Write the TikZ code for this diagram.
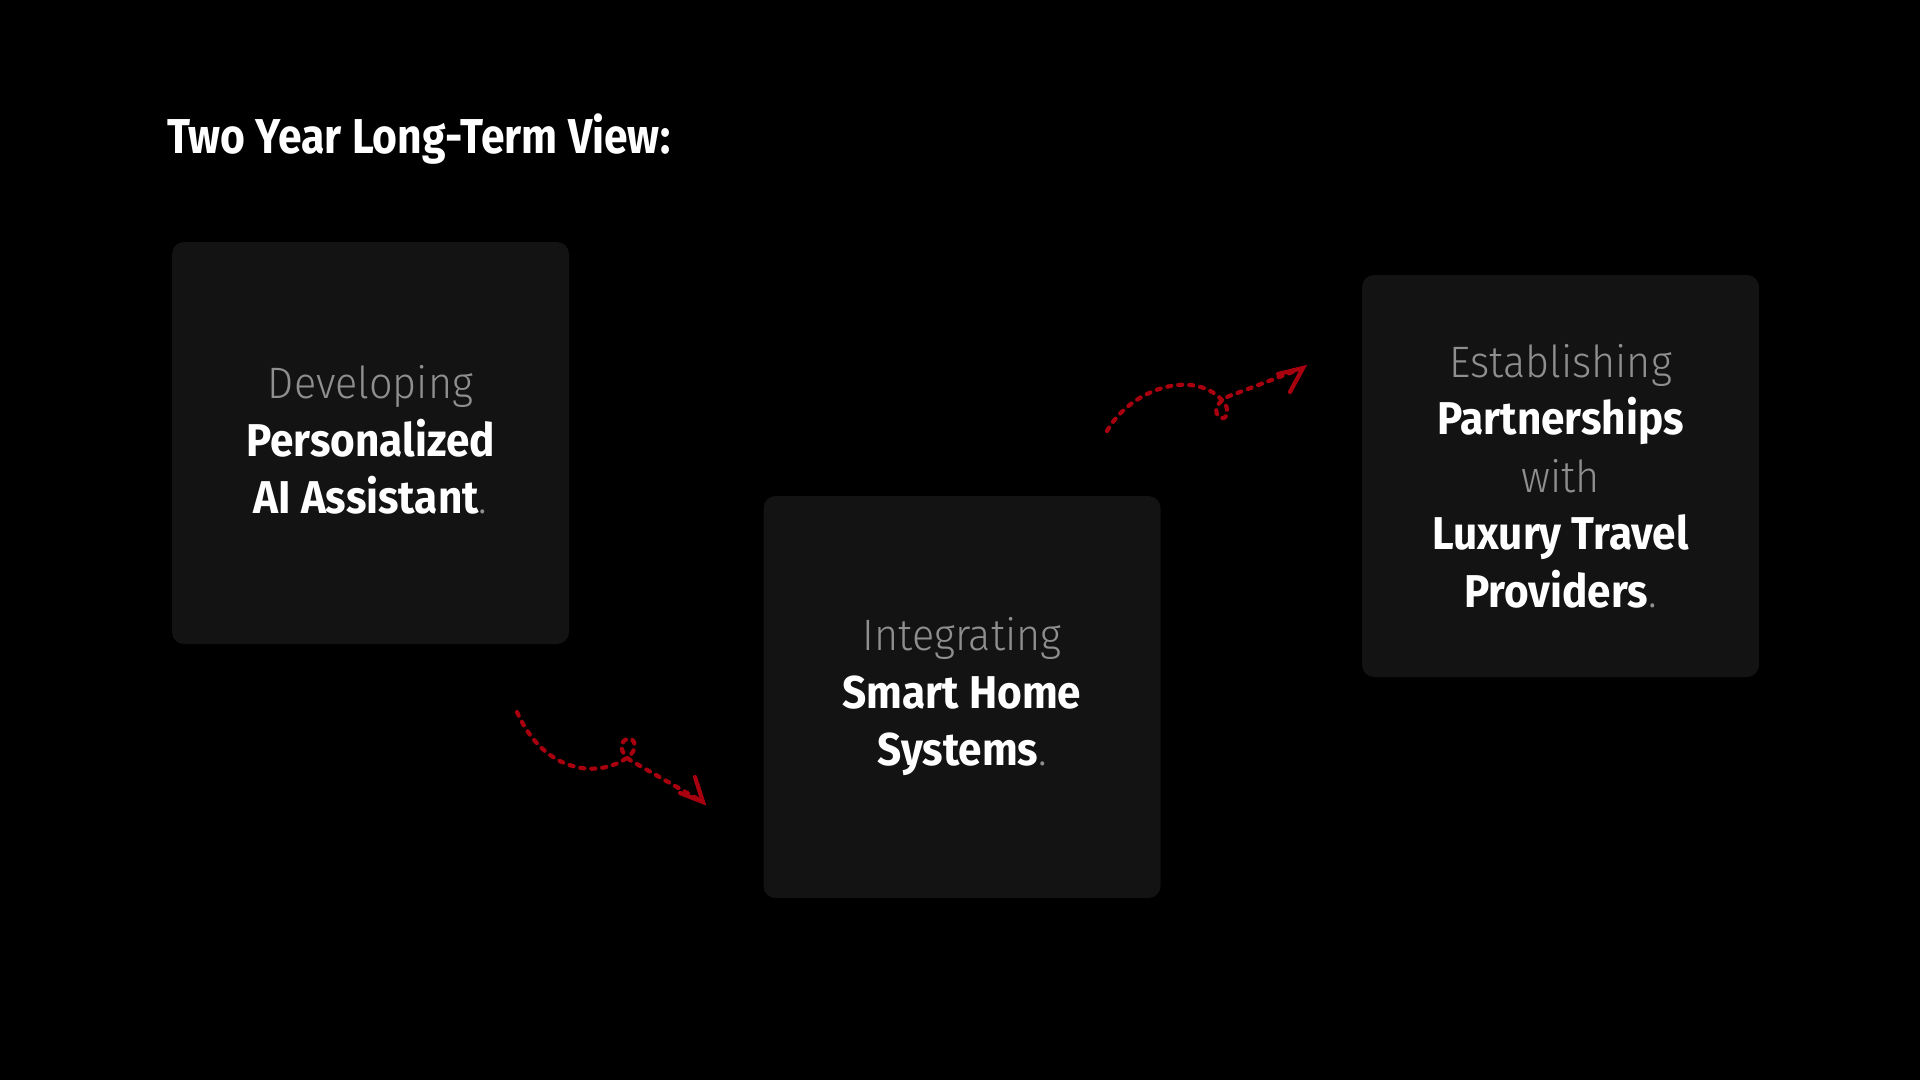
\documentclass[tikz,border=0pt]{standalone}
\usepackage{fontspec}
\setmainfont{Fira Sans}[FakeStretch=0.92]
\newfontfamily\titlefont{Fira Sans}[FakeStretch=0.87]
\newfontfamily\lightfont{Fira Sans Light}[FakeStretch=0.94]
\definecolor{boxc}{HTML}{131313}
\definecolor{greytxt}{HTML}{8F8F8F}
\definecolor{arrowred}{HTML}{A8000F}
\tikzset{
  card/.style={draw=none, fill=boxc, rounded corners=12pt, minimum width=397pt, minimum height=402pt, inner sep=0pt},
  cardtext/.style={text=white, align=center, inner sep=0pt, font=\fontsize{44}{57.5}\selectfont},
  redpath/.style={draw=arrowred, line width=4.2pt, line cap=round, dash pattern=on 4pt off 7pt},
  redhead/.style={draw=arrowred, line width=4.2pt, line cap=round}
}
\newcommand{\gw}[1]{{\lightfont\color{greytxt}#1}}
\newcommand{\bw}[1]{{\fontsize{46}{57.5}\selectfont\bfseries #1}}
\begin{document}
\begin{tikzpicture}[x=1pt,y=-1pt]
\fill[black] (0,0) rectangle (1920,1080);
\useasboundingbox (0,0) rectangle (1920,1080);

\node[anchor=base west, inner sep=0pt, text=white, font=\fontsize{49}{58}\selectfont\titlefont\bfseries] (title) at (167,153) {Two Year Long-Term View:};

\node[card] (b1) at (370.5,443) {};
\node[card] (b2) at (962,697) {};
\node[card] (b3) at (1560.5,476) {};

\node[cardtext] (t1) at ([yshift=3pt]b1.center) {\gw{Developing}\\ \bw{Personalized}\\ \bw{AI Assistant}\gw{.}};
\node[cardtext] (t2) at (b2.center) {\gw{Integrating}\\ \bw{Smart Home}\\ \bw{Systems}\gw{.}};
\node[cardtext] (t3) at (b3.center) {\gw{Establishing}\\ \bw{Partnerships}\\ \gw{with}\\ \bw{Luxury Travel}\\ \bw{Providers}\gw{.}};

% arrow 1
\coordinate (a1s) at (517,712);
\coordinate (a1l) at (628,757);
\coordinate (a1t) at (627,739);
\coordinate (a1o) at (635,763);
\coordinate (a1e) at (703,802);
\draw[redpath] (a1s) .. controls (545,775) and (600,778) .. (a1l)
  .. controls (638,750) and (636,737) .. (a1t)
  .. controls (618,742) and (620,756) .. (a1o) -- (a1e);
\draw[redhead] (695,777) -- (a1e) -- (680,793);

% arrow 2
\coordinate (a2s) at (1107,431);
\coordinate (a2l) at (1222,400);
\coordinate (a2b) at (1221,418);
\coordinate (a2o) at (1232,395);
\coordinate (a2e) at (1303,368);
\draw[redpath] (a2s) .. controls (1130,390) and (1192,368) .. (a2l)
  .. controls (1230,407) and (1228,420) .. (a2b)
  .. controls (1212,414) and (1216,400) .. (a2o) -- (a2e);
\draw[redhead] (1278,374) -- (a2e) -- (1290,392);
\end{tikzpicture}
\end{document}
